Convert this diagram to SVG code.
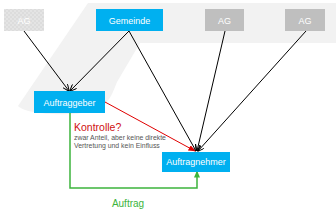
<svg xmlns="http://www.w3.org/2000/svg" width="336" height="213" viewBox="0 0 336 213">
<style>
.lbl{font-family:"Liberation Sans",Arial,sans-serif;font-size:9px;fill:#fff;text-anchor:middle}
.blue{fill:#00b0f0}
.gray{fill:#bfbfbf}
.blk{stroke:#000;stroke-width:1;fill:none}
</style>
<defs>
<pattern id="chk" width="4" height="4" patternUnits="userSpaceOnUse">
<rect width="4" height="4" fill="#dcdcdc"/>
<rect width="2" height="2" fill="#e4e4e4"/>
<rect x="2" y="2" width="2" height="2" fill="#e4e4e4"/>
</pattern>
<marker id="ab" markerWidth="7" markerHeight="6" refX="6.5" refY="3" orient="auto" markerUnits="userSpaceOnUse">
<path d="M0,0 L7,3 L0,6" fill="none" stroke="#000" stroke-width="1"/>
</marker>
<marker id="ar" markerWidth="7" markerHeight="6" refX="6.5" refY="3" orient="auto" markerUnits="userSpaceOnUse">
<path d="M0,0 L7,3 L0,6 Z" fill="#e00000"/>
</marker>
<marker id="ag" markerWidth="7" markerHeight="6" refX="6.5" refY="3" orient="auto" markerUnits="userSpaceOnUse">
<path d="M0,0 L7,3 L0,6 Z" fill="#3cb43c"/>
</marker>
</defs>
<path id="background" d="M88,3 H336 V43 H140 L117,82 C110,100 106,113 70,114 C45,115 24,112 18,106 Z" fill="#f2f2f2"/>
<g id="connectors">
<line class="blk" x1="24" y1="31" x2="69" y2="91" marker-end="url(#ab)"/>
<line class="blk" x1="129" y1="31" x2="70" y2="91" marker-end="url(#ab)"/>
<line class="blk" x1="129" y1="31" x2="196" y2="151" marker-end="url(#ab)"/>
<line class="blk" x1="225" y1="31" x2="197" y2="151" marker-end="url(#ab)"/>
<line class="blk" x1="306" y1="31" x2="198" y2="151" marker-end="url(#ab)"/>
<line x1="105" y1="102" x2="195" y2="151" stroke="#e00000" stroke-width="1" marker-end="url(#ar)"/>
<path d="M70,113 V188 H197 V171" fill="none" stroke="#3cb43c" stroke-width="1.5" marker-end="url(#ag)"/>
</g>
<g id="ag-faded">
<rect x="4" y="9" width="40" height="22" fill="url(#chk)"/>
<text class="lbl" x="24" y="23.5">AG</text>
</g>
<g id="gemeinde">
<rect class="blue" x="96" y="9" width="67" height="22"/>
<text class="lbl" x="129.5" y="23.5">Gemeinde</text>
</g>
<g id="ag1">
<rect class="gray" x="205" y="9" width="39" height="22"/>
<text class="lbl" x="224.5" y="23.5">AG</text>
</g>
<g id="ag2">
<rect class="gray" x="285" y="9" width="40" height="22"/>
<text class="lbl" x="305" y="23.5">AG</text>
</g>
<g id="auftraggeber">
<rect class="blue" x="34" y="91" width="71" height="22"/>
<text class="lbl" x="69.5" y="105.5">Auftraggeber</text>
</g>
<g id="auftragnehmer">
<rect class="blue" x="162" y="152" width="68" height="20"/>
<text class="lbl" x="196" y="165">Auftragnehmer</text>
</g>
<g id="labels" font-family="'Liberation Sans',Arial,sans-serif">
<text x="74" y="131" font-size="10.5" fill="#d01010">Kontrolle?</text>
<text x="74" y="139.5" font-size="6.9" fill="#555">zwar Anteil, aber keine direkte</text>
<text x="74" y="147.5" font-size="6.9" fill="#555">Vertretung und kein Einfluss</text>
<text x="128" y="207" font-size="10" fill="#3cb43c" text-anchor="middle">Auftrag</text>
</g>
</svg>
